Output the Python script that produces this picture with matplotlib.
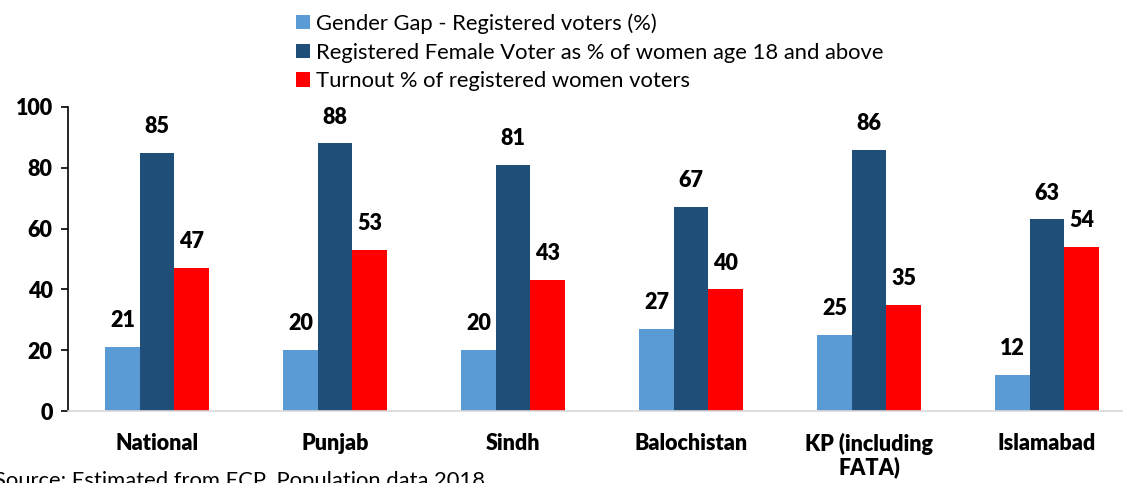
import matplotlib
matplotlib.use("Agg")
import matplotlib.pyplot as plt
import numpy as np

plt.rcParams["font.family"] = ["Lato", "DejaVu Sans"]

regions = ["National", "Punjab", "Sindh", "Balochistan", "KP (including\nFATA)", "Islamabad"]
gender_gap = [21, 20, 20, 27, 25, 12]
registered_female = [85, 88, 81, 67, 86, 63]
turnout = [47, 53, 43, 40, 35, 54]

series_names = [
    "Gender Gap - Registered voters (%)",
    "Registered Female Voter as % of women age 18 and above",
    "Turnout % of registered women voters",
]
colors = ["#5B9BD5", "#1F4E79", "#FF0000"]

W, H = 1123, 483
fig = plt.figure(figsize=(W / 100, H / 100), dpi=100)
ax = fig.add_axes([68 / W, (H - 411) / H, 1068 / W, 304 / H])

x = np.arange(len(regions))
width = 0.194
for i, (vals, name, c) in enumerate(zip([gender_gap, registered_female, turnout], series_names, colors)):
    bars = ax.bar(x + (i - 1) * width, vals, width, color=c, label=name, zorder=2)
    for b, v in zip(bars, vals):
        ax.annotate(f"{v:.0f}", (b.get_x() + b.get_width() / 2, v),
                    xytext=(0, 19), textcoords="offset points",
                    ha="center", va="center", fontsize=15.5, fontweight="heavy")

ax.set_xlim(-0.5, len(regions) - 0.5)
ax.set_ylim(0, 100)
ax.set_yticks(range(0, 101, 20))
ax.set_xticks(x)
ax.set_xticklabels(regions, fontsize=15.5, fontweight="heavy", linespacing=1.05, va="top")
ax.tick_params(axis="x", length=0, pad=16)
ax.tick_params(axis="y", length=5, width=1.2, direction="out", labelsize=15.5, pad=6)
for lbl in ax.get_yticklabels():
    lbl.set_fontweight("heavy")

for s in ["top", "right"]:
    ax.spines[s].set_visible(False)
ax.spines["left"].set_linewidth(1.2)
ax.spines["left"].set_color("black")
ax.spines["bottom"].set_color("#D9D9D9")
ax.spines["bottom"].set_linewidth(1.2)
ax.spines["bottom"].set_zorder(3)

fig.legend(loc="upper left", bbox_to_anchor=(283 / W, 1.0), frameon=False,
           fontsize=15.8, handlelength=0.62, handleheight=0.62, handletextpad=0.3,
           labelspacing=0.4, borderaxespad=0.2)

fig.text(-6 / W, 2 / H, "Source: Estimated from ECP, Population data 2018",
         fontsize=15.8, ha="left", va="center")

fig.savefig("out.png", dpi=100)
